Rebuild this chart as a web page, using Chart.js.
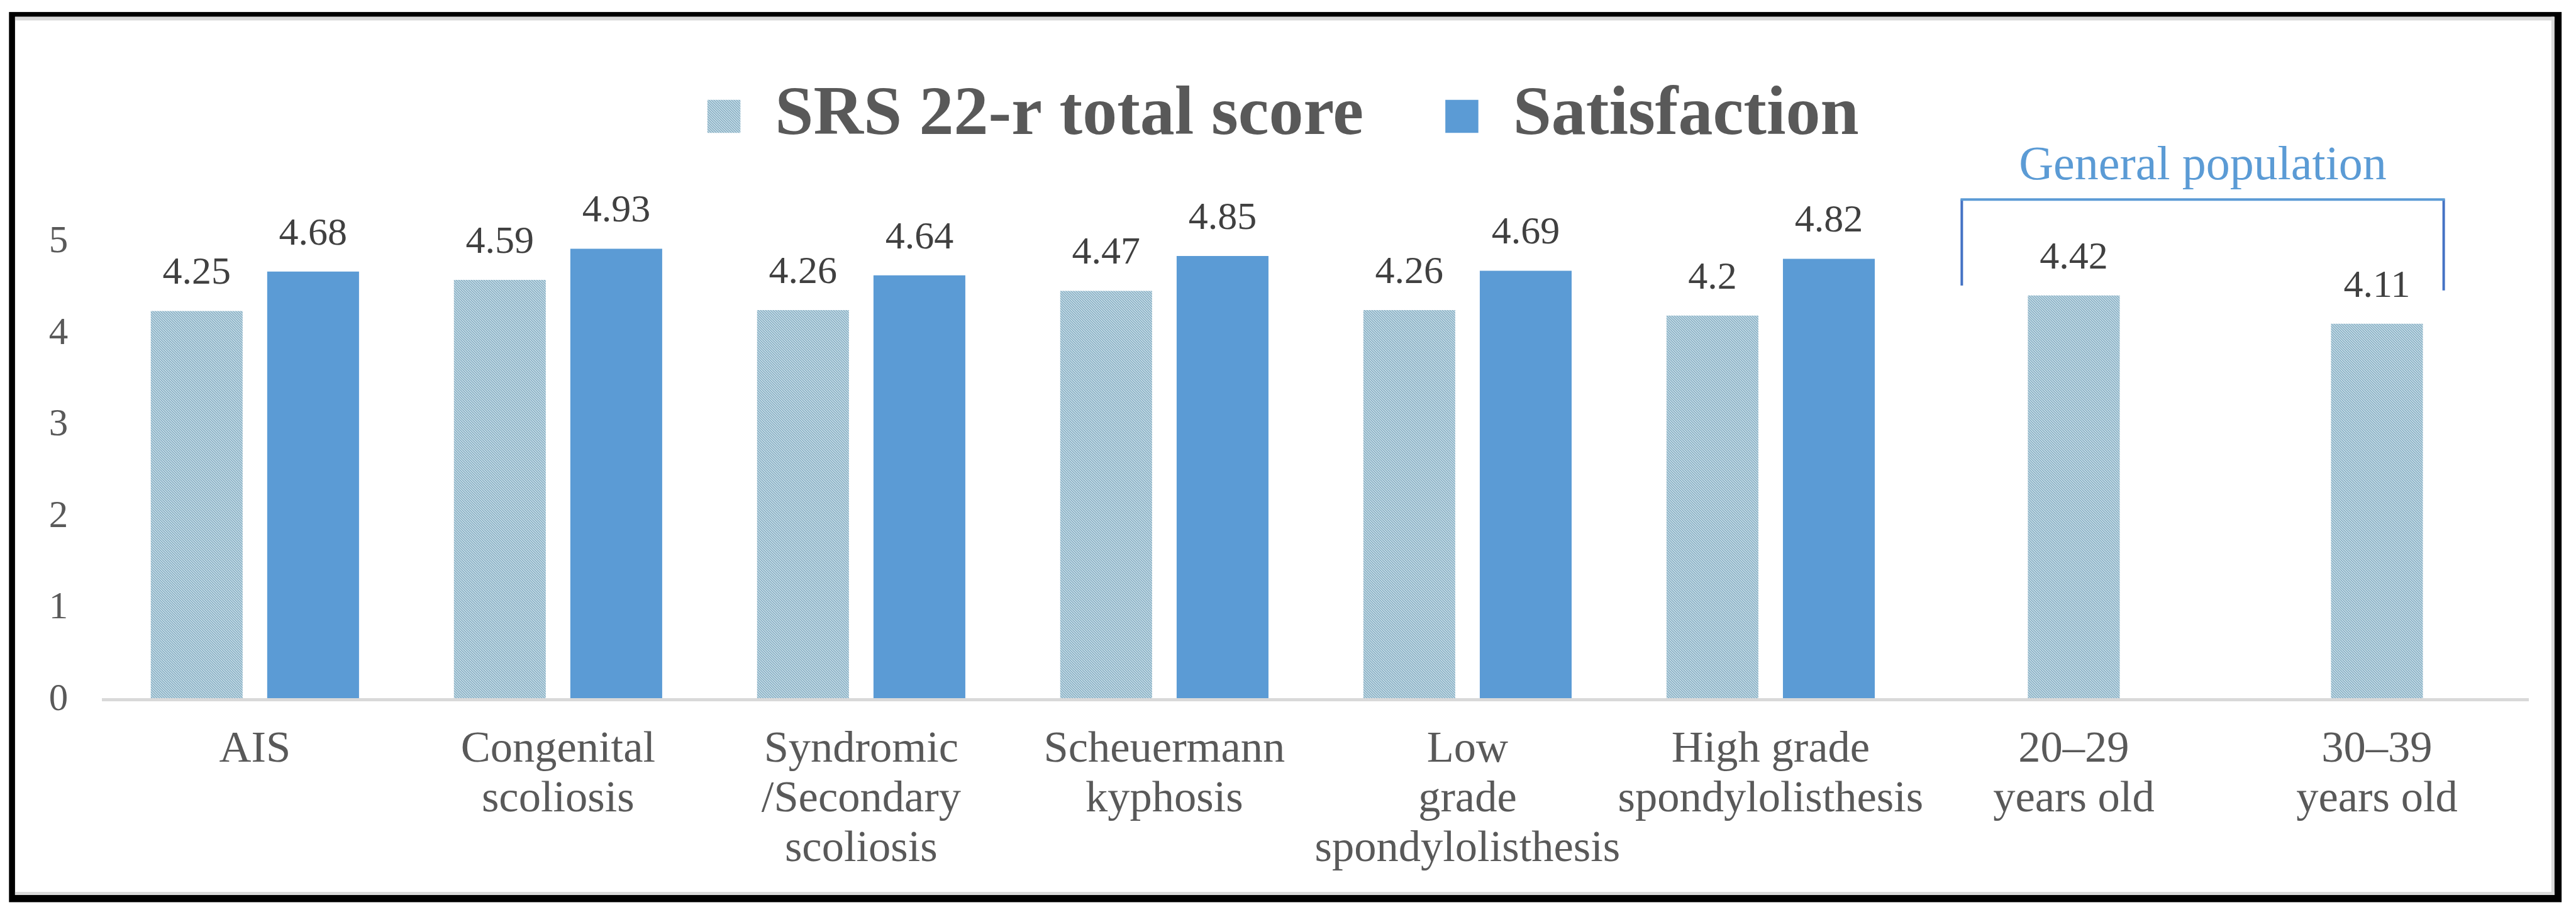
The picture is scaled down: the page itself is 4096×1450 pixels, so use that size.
<!DOCTYPE html>
<html>
<head>
<meta charset="utf-8">
<script src="https://cdn.jsdelivr.net/npm/chart.js@4/dist/chart.umd.min.js"></script>
<style>
html,body{margin:0;padding:0;background:#fff;}
canvas{display:block;}
</style>
</head>
<body>
<canvas id="c" width="4096" height="1450"></canvas>
<script>
// ---- data ----
const categories = [
  ['AIS'],
  ['Congenital', 'scoliosis'],
  ['Syndromic', '/Secondary', 'scoliosis'],
  ['Scheuermann', 'kyphosis'],
  ['Low', 'grade', 'spondylolisthesis'],
  ['High grade', 'spondylolisthesis'],
  ['20\u201329', 'years old'],
  ['30\u201339', 'years old']
];
const seriesNames = ['SRS 22-r total score', 'Satisfaction'];
const srsTotal = [4.25, 4.59, 4.26, 4.47, 4.26, 4.2, 4.42, 4.11];
const satisfaction = [4.68, 4.93, 4.64, 4.85, 4.69, 4.82, null, null];
const yTicks = [0, 1, 2, 3, 4, 5];
const groupLabel = 'General population';
const groupFirst = 6, groupLast = 7;   // categories covered by the bracket

// ---- styling ----
const FONT = "'Liberation Serif', 'Times New Roman', serif";
const TEXT = '#595959';
const LABEL = '#404040';
const DARK = '#5B9BD5';

const canvas = document.getElementById('c');
const ctx = canvas.getContext('2d');

function makeHatch() {
  const t = document.createElement('canvas');
  t.width = 4; t.height = 4;
  const g = t.getContext('2d');
  g.fillStyle = '#D2E4EC';
  g.fillRect(0, 0, 4, 4);
  g.strokeStyle = '#80AAC0';
  g.lineWidth = 1.5;
  g.beginPath();
  g.moveTo(-1, -1); g.lineTo(5, 5);
  g.moveTo(-1, 3); g.lineTo(1, 5);
  g.moveTo(3, -1); g.lineTo(5, 1);
  g.stroke();
  return ctx.createPattern(t, 'repeat');
}
const hatch = makeHatch();

const framePlugin = {
  id: 'frame',
  beforeDraw(chart) {
    const c = chart.ctx;
    c.save();
    c.fillStyle = '#fff';
    c.fillRect(0, 0, chart.width, chart.height);
    c.fillStyle = '#000';
    c.fillRect(14.3, 19.1, 4058.8, 1415.3);
    c.fillStyle = '#fff';
    c.fillRect(23.9, 26.7, 4037.7, 1396.3);
    c.fillStyle = '#D9D9D9';
    c.fillRect(23.9, 26.7, 4037.7, 5.8);
    c.fillRect(4056.8, 26.7, 4.8, 1396.3);
    c.fillRect(23.9, 1418, 4037.7, 5);
    c.restore();
  }
};

const valueLabels = {
  id: 'valueLabels',
  afterDatasetsDraw(chart) {
    const c = chart.ctx;
    c.save();
    c.font = '62px ' + FONT;
    c.fillStyle = LABEL;
    c.textAlign = 'center';
    c.textBaseline = 'alphabetic';
    chart.data.datasets.forEach((ds, di) => {
      const meta = chart.getDatasetMeta(di);
      meta.data.forEach((el, i) => {
        const v = ds.data[i];
        if (v === null || v === undefined) return;
        c.fillText(String(v), el.x, el.y - 43);
      });
    });
    c.restore();
  }
};

const groupBracket = {
  id: 'groupBracket',
  afterDraw(chart) {
    const x = chart.scales.x, y = chart.scales.y;
    const w = x.width / categories.length;
    const left = x.getPixelForValue(groupFirst) - 0.3736 * w;
    const right = x.getPixelForValue(groupLast) + 0.2243 * w;
    const top = y.getPixelForValue(5.467);
    const c = chart.ctx;
    c.save();
    c.lineWidth = 4;
    c.strokeStyle = '#4472C4';
    c.beginPath();
    c.moveTo(left + 2, top);
    c.lineTo(left + 2, y.getPixelForValue(4.528));
    c.moveTo(right - 2, top);
    c.lineTo(right - 2, y.getPixelForValue(4.475));
    c.stroke();
    c.strokeStyle = DARK;
    c.beginPath();
    c.moveTo(left, top);
    c.lineTo(right, top);
    c.stroke();
    c.font = '76px ' + FONT;
    c.fillStyle = DARK;
    c.textAlign = 'center';
    c.textBaseline = 'alphabetic';
    c.fillText(groupLabel, (left + right) / 2, y.getPixelForValue(5.689));
    c.restore();
  }
};

new Chart(ctx, {
  type: 'bar',
  data: {
    labels: categories,
    datasets: [
      { label: seriesNames[0], data: srsTotal, backgroundColor: hatch, borderWidth: 0, skipNull: true },
      { label: seriesNames[1], data: satisfaction, backgroundColor: DARK, borderWidth: 0, skipNull: true }
    ]
  },
  options: {
    responsive: false,
    animation: false,
    devicePixelRatio: 1,
    layout: { padding: { left: 60, right: 75.5, top: 0, bottom: 0 } },
    datasets: {
      bar: { categoryPercentage: 0.768, barPercentage: 0.789, maxBarThickness: 146.1 }
    },
    plugins: {
      tooltip: { enabled: false },
      legend: {
        display: true,
        position: 'top',
        align: 'center',
        labels: {
          font: { family: FONT, size: 110, weight: 'bold' },
          color: TEXT,
          boxWidth: 52.5,
          boxHeight: 52.5,
          padding: 130
        }
      }
    },
    scales: {
      x: {
        grid: { display: false, drawTicks: false },
        border: { display: true, color: '#D9D9D9', width: 5, z: 1 },
        ticks: {
          autoSkip: false,
          maxRotation: 0,
          minRotation: 0,
          padding: 40,
          color: TEXT,
          font: { family: FONT, size: 70.5, lineHeight: 1.125 }
        },
        afterFit(scale) { scale.height = 337.4; }
      },
      y: {
        min: 0,
        max: 5.93,
        grid: { display: false, drawTicks: false },
        border: { display: false },
        ticks: {
          padding: 56,
          color: TEXT,
          font: { family: FONT, size: 61 }
        },
        afterBuildTicks(scale) { scale.ticks = yTicks.map(v => ({ value: v })); },
        afterFit(scale) { scale.width = 104.3; }
      }
    }
  },
  plugins: [framePlugin, valueLabels, groupBracket]
});
</script>
</body>
</html>
